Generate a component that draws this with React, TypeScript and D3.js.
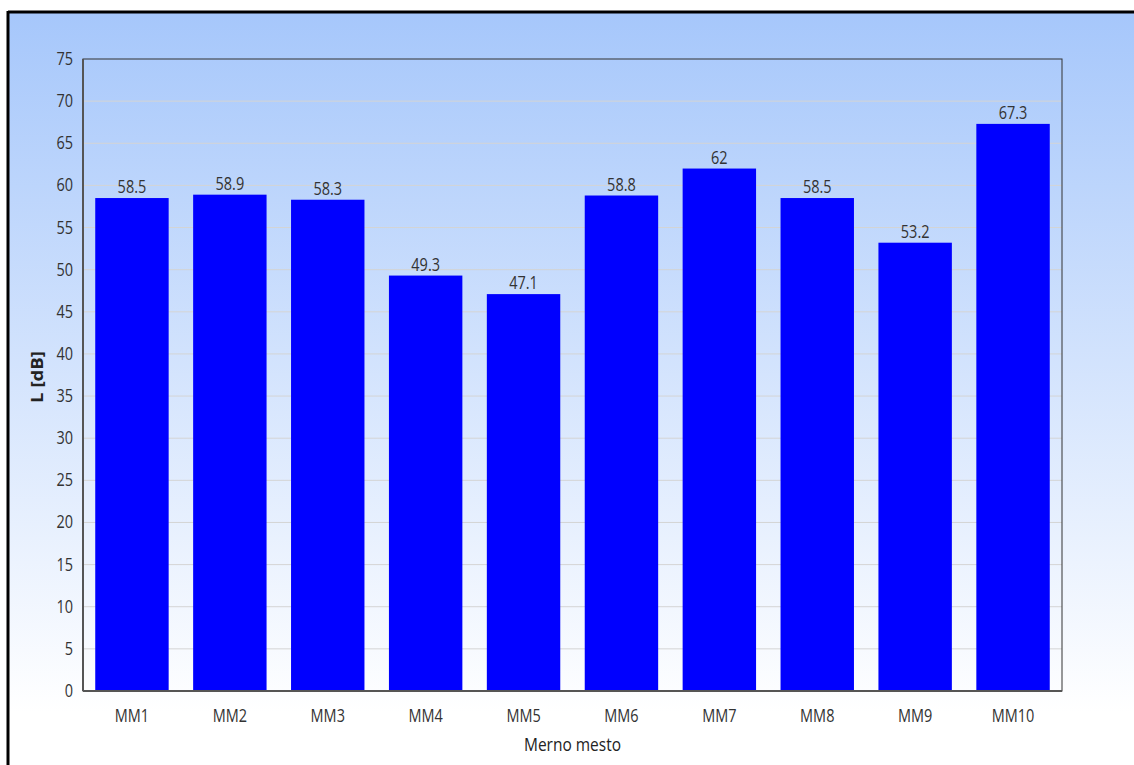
import React from "react";
import * as d3 from "d3";

const categories = ["MM1", "MM2", "MM3", "MM4", "MM5", "MM6", "MM7", "MM8", "MM9", "MM10"];
const values = [58.5, 58.9, 58.3, 49.3, 47.1, 58.8, 62, 58.5, 53.2, 67.3];
const yTicks = [0, 5, 10, 15, 20, 25, 30, 35, 40, 45, 50, 55, 60, 65, 70, 75];
const xTitle = "Merno mesto";
const yTitle = "L [dB]";

const W = 1134;
const H = 765;
const m = { left: 83, right: 1062, top: 59, bottom: 691 };
const font = "'Open Sans', 'Noto Sans', sans-serif";
const SY = 1.2;

function T(props: { x: number; y: number; anchor?: string; size?: number; fill?: string; weight?: string; children: React.ReactNode }) {
  const { x, y, anchor = "middle", size = 14.5, fill = "#333", weight = "normal", children } = props;
  return (
    <text
      transform={`translate(${x},${y}) scale(1,${SY})`}
      textAnchor={anchor}
      fontFamily={font}
      fontSize={size}
      fontWeight={weight}
      fill={fill}
    >
      {children}
    </text>
  );
}

export default function App() {
  const x = d3.scaleBand<string>().domain(categories).range([m.left, m.right]).paddingInner(0.25).paddingOuter(0.125);
  const y = d3.scaleLinear().domain([0, 75]).range([m.bottom, m.top]);
  return (
    <svg width={W} height={H} style={{ position: "absolute", left: 0, top: 0 }}>
      <defs>
        <linearGradient id="bg" x1="0" y1="0" x2="0" y2="1">
          <stop offset="0" stopColor="#a6c7fb" />
          <stop offset="0.93" stopColor="#ffffff" />
          <stop offset="1" stopColor="#ffffff" />
        </linearGradient>
      </defs>
      <rect x={8} y={12} width={W - 8} height={H - 12} fill="url(#bg)" />
      <line x1={8} y1={12} x2={W} y2={12} stroke="#000" strokeWidth={3} />
      <line x1={8} y1={11} x2={8} y2={H} stroke="#000" strokeWidth={3} />
      {yTicks.map((t) => (
        <g key={t}>
          {t > 0 && t < 75 && (
            <line x1={m.left} x2={m.right} y1={y(t)} y2={y(t)} stroke="#d4d4d4" strokeWidth={1} />
          )}
          <T x={m.left - 10} y={y(t) + 6} anchor="end">
            {t}
          </T>
        </g>
      ))}
      {categories.map((c, i) => (
        <g key={c}>
          <rect x={x(c)} y={y(values[i])} width={x.bandwidth()} height={m.bottom - y(values[i])} fill="#0000ff" />
          <T x={x(c)! + x.bandwidth() / 2} y={y(values[i]) - 5}>
            {values[i]}
          </T>
          <T x={x(c)! + x.bandwidth() / 2} y={m.bottom + 31}>
            {c}
          </T>
        </g>
      ))}
      <rect x={m.left} y={m.top} width={m.right - m.left} height={m.bottom - m.top} fill="none" stroke="#333" strokeWidth={1} />
      <line x1={m.left} x2={m.left} y1={m.top} y2={m.bottom} stroke="#555" strokeWidth={2} />
      <line x1={m.left} x2={m.right} y1={m.bottom} y2={m.bottom} stroke="#555" strokeWidth={2} />
      <T x={(m.left + m.right) / 2} y={751} size={15.5} fill="#222">
        {xTitle}
      </T>
      <text
        transform={`translate(43, ${(m.top + m.bottom) / 2 + 2}) rotate(-90) scale(${SY},1)`}
        textAnchor="middle"
        fontFamily={font}
        fontSize={15.5}
        fontWeight="bold"
        fill="#222"
      >
        {yTitle}
      </text>
    </svg>
  );
}
